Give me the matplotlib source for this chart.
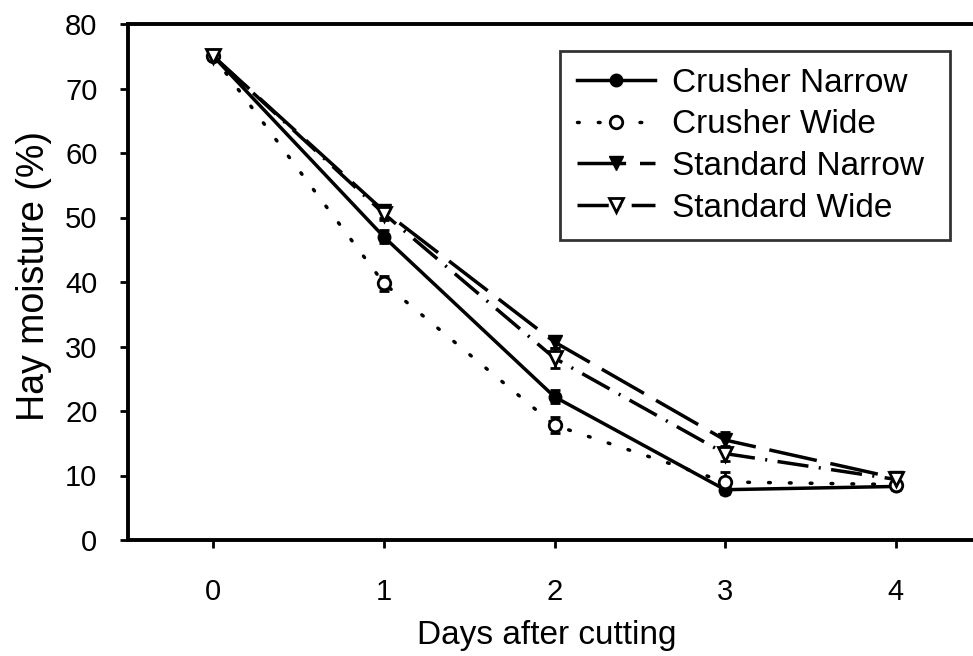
import matplotlib.pyplot as plt

plt.rcParams['font.family'] = ['Liberation Sans', 'DejaVu Sans']

days = [0, 1, 2, 3, 4]
crusher_narrow = [75, 47, 22.2, 7.8, 8.3]
crusher_narrow_err = [0.5, 1.0, 1.0, 0.6, 0.5]
crusher_wide = [75, 39.8, 17.8, 9.0, 8.6]
crusher_wide_err = [0.5, 1.2, 1.2, 1.5, 0.5]
standard_narrow = [75, 51, 30.7, 15.5, 9.6]
standard_narrow_err = [0.5, 1.0, 1.0, 1.2, 0.5]
standard_wide = [75, 50.6, 28.2, 13.4, 9.4]
standard_wide_err = [0.5, 1.0, 1.6, 1.2, 0.5]

W, H = 973, 656
fig = plt.figure(figsize=(W / 100, H / 100), dpi=100)
ax = fig.add_axes([128 / W, 1 - 540 / H, 853 / W, 516 / H])

common = dict(color='black', linewidth=2.5, capsize=3.8, elinewidth=2, capthick=2)
series = [
    ax.errorbar(days, crusher_narrow, yerr=crusher_narrow_err, marker='o', markersize=9,
                markerfacecolor='black', linestyle='-', label='Crusher Narrow', **common),
    ax.errorbar(days, crusher_wide, yerr=crusher_wide_err, marker='o', markersize=9,
                markerfacecolor='white', markeredgewidth=2, linestyle=(0, (0.5, 5.5)),
                dash_capstyle='round', label='Crusher Wide', **common),
    ax.errorbar(days, standard_narrow, yerr=standard_narrow_err, marker='v', markersize=10,
                markerfacecolor='black', linestyle=(0, (14, 4)), label='Standard Narrow', **common),
    ax.errorbar(days, standard_wide, yerr=standard_wide_err, marker='v', markersize=10,
                markerfacecolor='white', markeredgewidth=2, linestyle=(0, (9, 3, 0.6, 3)),
                label='Standard Wide', **common),
]

ax.set_xlim(-0.5, 4.5)
ax.set_ylim(0, 80)
ax.set_xticks(days)
ax.set_yticks(range(0, 81, 10))
ax.tick_params(direction='out', length=6, width=2, labelsize=21)
ax.tick_params(axis='x', pad=21)
ax.tick_params(axis='y', pad=16)
for side in ['left', 'bottom', 'top', 'right']:
    ax.spines[side].set_linewidth(2.8)

ax.set_xlabel('Days after cutting', fontsize=24)
ax.set_ylabel('Hay moisture (%)', fontsize=27)
ax.xaxis.set_label_coords(547 / W, 1 - 620 / H, transform=fig.transFigure)
ax.yaxis.set_label_coords(52 / W, 1 - 276 / H, transform=fig.transFigure)

handles = [s.lines[0] for s in series]
labels = [s.get_label() for s in series]
leg = ax.legend(handles, labels, loc='upper left',
                bbox_to_anchor=(560 / W, 1 - 240 / H, 390 / W, 189 / H),
                bbox_transform=fig.transFigure, mode='expand', fontsize=24, frameon=True,
                fancybox=False, handlelength=2.35, handletextpad=0.5,
                labelspacing=0.32, borderpad=0.5, borderaxespad=0)
leg.get_frame().set_edgecolor('black')
leg.get_frame().set_linewidth(2)

fig.savefig('out.png', dpi=100)
